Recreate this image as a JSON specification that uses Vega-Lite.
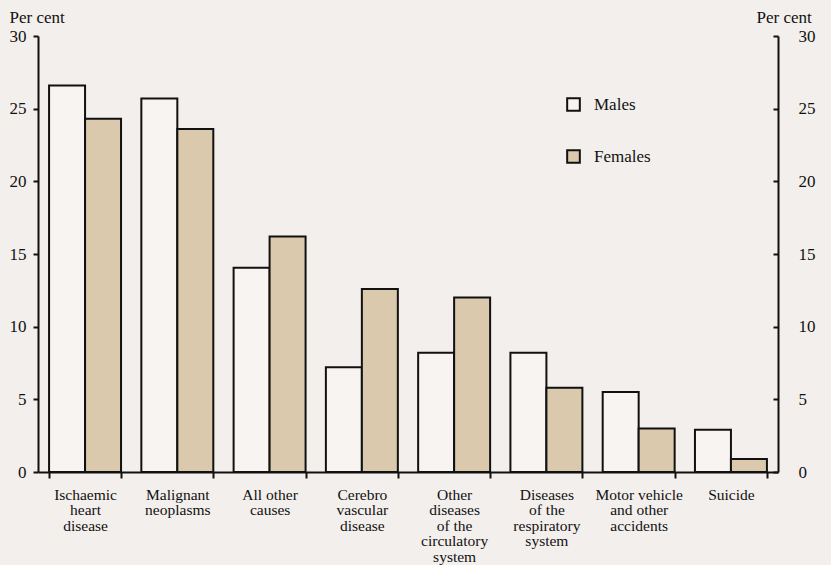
{
  "$schema": "https://vega.github.io/schema/vega-lite/v6.json",
  "width": 740,
  "height": 436,
  "autosize": "none",
  "padding": {"left": 38, "top": 36, "right": 53, "bottom": 93},
  "background": "#f3efec",
  "config": {
    "view": {"stroke": null},
    "font": "Liberation Serif"
  },
  "data": {
    "values": [
      {"cause": "Ischaemic\nheart\ndisease", "sex": "Males", "pct": 26.6},
      {"cause": "Ischaemic\nheart\ndisease", "sex": "Females", "pct": 24.3},
      {"cause": "Malignant\nneoplasms", "sex": "Males", "pct": 25.7},
      {"cause": "Malignant\nneoplasms", "sex": "Females", "pct": 23.6},
      {"cause": "All other\ncauses", "sex": "Males", "pct": 14.05},
      {"cause": "All other\ncauses", "sex": "Females", "pct": 16.2},
      {"cause": "Cerebro\nvascular\ndisease", "sex": "Males", "pct": 7.2},
      {"cause": "Cerebro\nvascular\ndisease", "sex": "Females", "pct": 12.6},
      {"cause": "Other\ndiseases\nof the\ncirculatory\nsystem", "sex": "Males", "pct": 8.2},
      {"cause": "Other\ndiseases\nof the\ncirculatory\nsystem", "sex": "Females", "pct": 12.0},
      {"cause": "Diseases\nof the\nrespiratory\nsystem", "sex": "Males", "pct": 8.2},
      {"cause": "Diseases\nof the\nrespiratory\nsystem", "sex": "Females", "pct": 5.8},
      {"cause": "Motor vehicle\nand other\naccidents", "sex": "Males", "pct": 5.5},
      {"cause": "Motor vehicle\nand other\naccidents", "sex": "Females", "pct": 3.0},
      {"cause": "Suicide", "sex": "Males", "pct": 2.9},
      {"cause": "Suicide", "sex": "Females", "pct": 0.9}
    ]
  },
  "encoding": {
    "x": {
      "field": "cause",
      "type": "nominal",
      "sort": null,
      "scale": {"paddingInner": 0.22, "paddingOuter": 0.12},
      "axis": {
        "title": null,
        "labelAngle": 0,
        "labelExpr": "split(datum.label, '\\n')",
        "labelFont": "Liberation Serif",
        "labelFontSize": 15.5,
        "labelColor": "#111",
        "labelLineHeight": 15.5,
        "labelBaseline": "top",
        "labelPadding": 9,
        "labelLimit": 200,
        "tickBand": "extent",
        "tickSize": 6,
        "tickWidth": 2,
        "tickColor": "#111",
        "domainColor": "#111",
        "domainWidth": 2
      }
    },
    "xOffset": {"field": "sex", "type": "nominal", "sort": ["Males", "Females"], "scale": {"paddingInner": 0, "paddingOuter": 0}},
    "color": {
      "field": "sex",
      "type": "nominal",
      "sort": ["Males", "Females"],
      "scale": {"domain": ["Males", "Females"], "range": ["#f7f4f2", "#dac9ad"]},
      "legend": {
        "title": null,
        "orient": "none",
        "legendX": 527,
        "legendY": 60,
        "symbolType": "square",
        "symbolSize": 160,
        "symbolStrokeColor": "#111",
        "symbolStrokeWidth": 2,
        "labelFont": "Liberation Serif",
        "labelFontSize": 17,
        "labelColor": "#111",
        "labelOffset": 12,
        "rowPadding": 31
      }
    }
  },
  "layer": [
    {
      "mark": {"type": "bar", "stroke": "#111", "strokeWidth": 2, "opacity": 1},
      "encoding": {
        "y": {
          "field": "pct",
          "type": "quantitative",
          "scale": {"domain": [0, 30], "nice": false},
          "axis": {
            "orient": "left",
            "values": [0, 5, 10, 15, 20, 25, 30],
            "grid": false,
            "domainColor": "#111",
            "domainWidth": 2,
            "tickColor": "#111",
            "tickWidth": 2,
            "tickSize": 5,
            "labelFont": "Liberation Serif",
            "labelFontSize": 17,
            "labelColor": "#111",
            "labelPadding": 7,
            "title": "Per cent",
            "titleAngle": 0,
            "titleAlign": "left",
            "titleBaseline": "alphabetic",
            "titleX": -29,
            "titleY": -14,
            "titleFont": "Liberation Serif",
            "titleFontSize": 17,
            "titleFontWeight": "normal",
            "titleColor": "#111"
          }
        }
      }
    },
    {
      "mark": {"type": "bar", "opacity": 0},
      "encoding": {
        "y": {
          "field": "pct",
          "type": "quantitative",
          "scale": {"domain": [0, 30], "nice": false},
          "axis": {
            "orient": "right",
            "values": [0, 5, 10, 15, 20, 25, 30],
            "grid": false,
            "domainColor": "#111",
            "domainWidth": 2,
            "tickColor": "#111",
            "tickWidth": 2,
            "tickSize": -5,
            "labelFont": "Liberation Serif",
            "labelFontSize": 17,
            "labelColor": "#111",
            "labelPadding": 25,
            "title": "Per cent",
            "titleAngle": 0,
            "titleAlign": "left",
            "titleBaseline": "alphabetic",
            "titleX": -22,
            "titleY": -14,
            "titleFont": "Liberation Serif",
            "titleFontSize": 17,
            "titleFontWeight": "normal",
            "titleColor": "#111"
          }
        }
      }
    }
  ],
  "resolve": {"axis": {"y": "independent"}}
}
